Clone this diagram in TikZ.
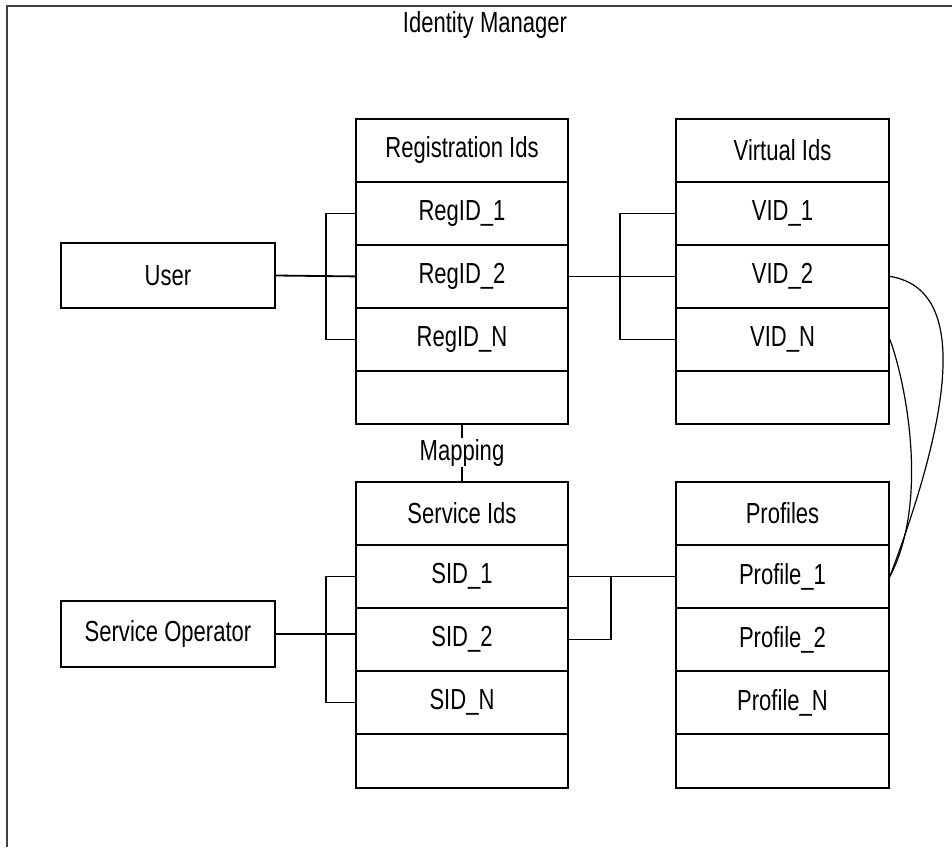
\documentclass[tikz,border=0pt]{standalone}
\usepackage{fontspec}
\setmainfont{Liberation Sans}[FakeStretch=0.76]
\usetikzlibrary{positioning}

\begin{document}
\begin{tikzpicture}[x=1pt, y=-1pt, line width=1.8pt,
    font=\fontsize{29pt}{33pt}\selectfont,
    cell/.style={draw, anchor=north, inner sep=0pt, minimum height=63pt},
    lcell/.style={cell, minimum width=212pt},
    rcell/.style={cell, minimum width=213pt},
    actor/.style={draw, inner sep=0pt, minimum width=214pt}]
  \useasboundingbox (0,0) rectangle (952,847);
  % outer frame (cut off at the page edge)
  \draw[line width=2.6pt, black!75] (7,847) |- (952,6);
  \node (title) at (485,25) {Identity Manager};
  % upper tables
  \foreach \lbl [count=\k from 0] in {Registration Ids, RegID\_1, RegID\_2, RegID\_N}
    \node[lcell] (reg\k) at (462, {118+63*\k}) {\lbl};
  \node[lcell, minimum height=53pt] (reg4) at (462,370) {};
  \foreach \lbl [count=\k from 0] in {Virtual Ids, VID\_1, VID\_2, VID\_N}
    \node[rcell] (vid\k) at (782.5, {118+63*\k}) {\lbl};
  \node[rcell, minimum height=53pt] (vid4) at (782.5,370) {};
  % lower tables
  \foreach \lbl [count=\k from 0] in {Service Ids, SID\_1, SID\_2, SID\_N}
    \node[lcell] (sid\k) at (462, {481+63*\k}) {\lbl};
  \node[lcell, minimum height=54pt] (sid4) at (462,733) {};
  \foreach \lbl [count=\k from 0] in {Profiles, Profile\_1, Profile\_2, Profile\_N}
    \node[rcell] (prof\k) at (782.5, {481+63*\k}) {\lbl};
  \node[rcell, minimum height=54pt] (prof4) at (782.5,733) {};
  % actors
  \node[actor, minimum height=65pt] (user) at (168,275.5) {User};
  \node[actor, minimum height=66pt] (oper) at (168,634) {Service Operator};
  % user to registration ids
  \draw (user.east) -- (reg2.west);
  \draw (reg1.west) -- +(-29,0) |- (reg3.west);
  % registration ids to virtual ids
  \draw (reg2.east) -- (vid2.west);
  \draw (vid1.west) -- +(-55,0) |- (vid3.west);
  % operator to service ids
  \draw (oper.east) -- (oper.east -| sid2.west);
  \draw (sid1.west) -- +(-29,0) |- (sid3.west);
  % service ids to profiles
  \draw (sid1.east) -- (prof1.west);
  \draw (sid2.east) -- +(42,0) |- (prof1.west);
  % mapping
  \draw (reg4.south) -- (sid0.north)
    node[midway, fill=white, inner sep=1pt] {Mapping};
  % virtual ids to profile
  \draw[line width=1.2pt] (vid2.east) .. controls (975,290) and (945,430) .. (prof1.east);
  \draw[line width=1.2pt] (vid3.east) .. controls (905,380) and (930,500) .. (prof1.east);
\end{tikzpicture}
\end{document}
